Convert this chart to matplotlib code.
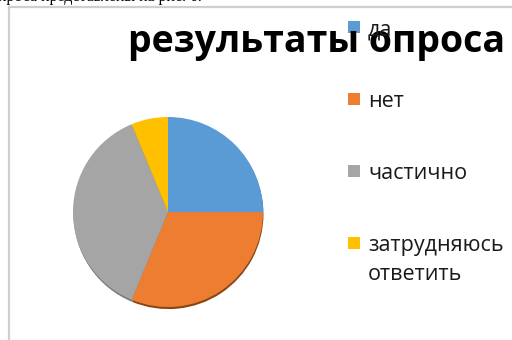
import matplotlib
matplotlib.use("Agg")
import matplotlib.pyplot as plt
from matplotlib.patches import Rectangle

# Survey answers
categories = ["да", "нет", "частично", "затрудняюсь\nответить"]
counts = [4, 5, 6, 1]
colors = ["#5B9BD5", "#ED7D31", "#A5A5A5", "#FFC000"]
shade = ["#3E6E9A", "#8A4515", "#7A7A7A", "#A07A00"]
title = "результаты опроса"
caption = "проса представлены на рис. 6."

plt.rcParams["font.family"] = ["Open Sans", "DejaVu Sans"]

W, H = 512, 340
fig = plt.figure(figsize=(W / 100, H / 100), dpi=100)
fig.patch.set_facecolor("white")


def fx(px):
    return px / W


def fy(py):
    return 1 - py / H


# running text of the page, mostly clipped above the chart
fig.text(fx(-2), fy(1), caption, family=["Liberation Serif", "DejaVu Serif"],
         fontsize=11.5, va="baseline", ha="left", color="black")

# chart frame (its right and bottom sides run past the edges)
left, top = 9, 7
fig.patches.append(Rectangle((fx(left), fy(H + 50)), fx(W + 50), (H + 50 - top) / H,
                             transform=fig.transFigure, fill=False,
                             edgecolor="#CFCFCF", linewidth=1.6))

# pie with a faint drop shadow
cx, cy, r = 168, 212, 95
ax = fig.add_axes([fx(cx - r), fy(cy + r), 2 * r / W, 2 * r / H])
ax.pie(counts, colors=shade, startangle=90, counterclock=False,
       radius=1.0, center=(0.005, -0.022), wedgeprops=dict(linewidth=0))
ax.pie(counts, colors=colors, startangle=90, counterclock=False,
       radius=1.0, center=(0, 0), wedgeprops=dict(linewidth=0))
ax.set_xlim(-1.0, 1.0)
ax.set_ylim(-1.0, 1.0)
ax.set_aspect("auto")
ax.axis("off")

# title
fig.text(fx(317), fy(52), title, fontsize=27, fontweight="bold",
         ha="center", va="baseline", color="black")

# legend
ly0, step = 27, 72
for i, (lab, col) in enumerate(zip(categories, colors)):
    yc = ly0 + i * step
    fig.patches.append(Rectangle((fx(348), fy(yc + 6)), fx(12), 12 / H,
                                 transform=fig.transFigure, facecolor=col,
                                 edgecolor="none"))
    for j, line in enumerate(lab.split("\n")):
        fig.text(fx(368), fy(yc + j * 29), line, fontsize=15.5, ha="left",
                 va="center_baseline", color="#1A1A1A")

fig.savefig("out.png", dpi=100)
